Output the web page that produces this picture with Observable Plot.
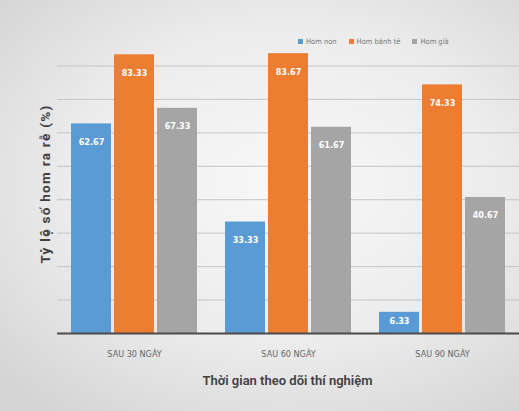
<!DOCTYPE html>
<html>
<head>
<meta charset="utf-8">
<script src="https://cdn.jsdelivr.net/npm/d3@7"></script>
<script src="https://cdn.jsdelivr.net/npm/@observablehq/plot@0.6"></script>
<style>
  html, body { margin: 0; padding: 0; }
  body {
    width: 519px; height: 411px; overflow: hidden;
    background: radial-gradient(ellipse 75% 70% at 55% 45%, #f8f8f8 0%, #ececec 55%, #d4d4d4 100%);
    font-family: Roboto, "Liberation Sans", sans-serif;
  }
  #wrap { position: relative; width: 519px; height: 411px; }
  #wrap svg { position: absolute; left: 0; top: 0; }
  #legend {
    position: absolute; top: 37px; left: 298px;
    display: flex; gap: 12px; font-family: "Liberation Sans Narrow", "DejaVu Sans Condensed", sans-serif;
    font-size: 7.5px; color: #7a7a7a; white-space: nowrap;
  }
  #legend span.sw { display: inline-block; width: 5px; height: 5px; margin-right: 3px; vertical-align: middle; }
  #xtitle {
    position: absolute; left: 56px; width: 463px; top: 373px; text-align: center;
    font-size: 13px; font-weight: 600; color: #404040; white-space: nowrap;
  }
  #ytitle {
    position: absolute; left: 45px; top: 184px; transform: translate(-50%, -50%) rotate(-90deg);
    font-size: 13.5px; font-weight: 700; color: #404040; white-space: nowrap; letter-spacing: 1.3px;
  }
</style>
</head>
<body>
<div id="wrap">
  <div id="legend"></div>
  <div id="xtitle"></div>
  <div id="ytitle"></div>
</div>
<script>
// Rooting rate of cuttings by cutting type over the observation period
const periods = ["SAU 30 NGÀY", "SAU 60 NGÀY", "SAU 90 NGÀY"];
const series = ["Hom non", "Hom bánh tẻ", "Hom già"];
const homNon = [62.67, 33.33, 6.33];
const homBanhTe = [83.33, 83.67, 74.33];
const homGia = [67.33, 61.67, 40.67];
const colors = ["#5b9bd5", "#ed7d31", "#a5a5a5"];
const yTicks = [10, 20, 30, 40, 50, 60, 70, 80];
const xTitle = "Thời gian theo dõi thí nghiệm";
const yTitle = "Tỷ lệ số hom ra rễ (%)";

const seriesValues = [homNon, homBanhTe, homGia];
const rows = [];
periods.forEach((p, i) => {
  series.forEach((s, j) => rows.push({period: p, series: s, value: seriesValues[j][i]}));
});

const chart = Plot.plot({
  width: 519,
  height: 411,
  marginTop: 32,
  marginBottom: 78,
  marginLeft: 56,
  marginRight: 0,
  style: {background: "transparent", overflow: "visible"},
  fx: {domain: periods, padding: 0, label: null},
  x: {domain: series, paddingInner: 0.08, paddingOuter: 0.31, axis: null},
  y: {domain: [0, 90], axis: null},
  color: {domain: series, range: colors},
  marks: [
    Plot.ruleY(yTicks, {stroke: "#c4c4c4", strokeWidth: 1}),
    Plot.barY(rows, {
      fx: "period", x: "series", y: "value", fill: "series",
      style: "filter: drop-shadow(0 0 1.5px rgba(255,255,255,0.9))"
    }),
    // value labels sit inside the top of each bar; short bars keep them centred
    Plot.text(rows, {
      fx: "period", x: "series",
      y: d => Math.max(d.value - 5.4, d.value / 2 + 0.6),
      text: d => d.value.toFixed(2),
      fill: "white", fontSize: 9, fontWeight: "bold",
      fontFamily: "'Liberation Sans Narrow', 'DejaVu Sans Condensed', sans-serif"
    }),
    Plot.ruleY([0], {stroke: "#4a4a4a", strokeWidth: 2}),
    Plot.axisFx({
      anchor: "bottom", tickSize: 0, tickPadding: 17, fontSize: 9,
      fontFamily: "'Liberation Sans Narrow', 'DejaVu Sans Condensed', sans-serif",
      color: "#666", label: null
    })
  ]
});

const wrap = document.getElementById("wrap");
wrap.insertBefore(chart, wrap.firstChild);
document.getElementById("xtitle").textContent = xTitle;
document.getElementById("ytitle").textContent = yTitle;

const legend = document.getElementById("legend");
series.forEach((s, i) => {
  const item = document.createElement("span");
  item.innerHTML = `<span class="sw" style="background:${colors[i]}"></span>${s}`;
  legend.appendChild(item);
});
</script>
</body>
</html>
